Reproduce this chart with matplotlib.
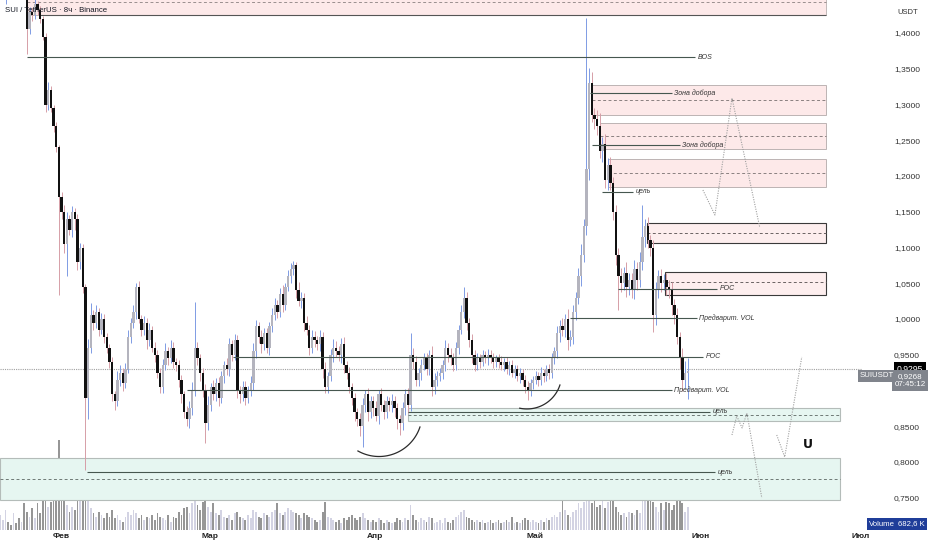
import numpy as np
import matplotlib.pyplot as plt
from matplotlib.patches import Rectangle
from matplotlib.transforms import blended_transform_factory

plt.rcParams['font.family'] = ['Liberation Sans', 'DejaVu Sans']

# ---- data (12h candles, x = days from 1 Feb) ----
T0 = -11.4
first_open = 1.480
closes = [
    1.490, 1.505, 1.520, 1.495, 1.480, 1.500, 1.485, 1.470, 1.490, 1.455,
    1.405, 1.430, 1.425, 1.440, 1.432, 1.420, 1.395, 1.300, 1.320, 1.295,
    1.270, 1.240, 1.170, 1.150, 1.105, 1.140, 1.125, 1.150, 1.140, 1.080,
    1.100, 1.045, 0.890, 0.960, 1.005, 0.995, 1.010, 0.985, 1.000, 0.975,
    0.960, 0.940, 0.895, 0.885, 0.915, 0.925, 0.910, 0.930, 0.975, 0.995,
    1.010, 1.045, 1.000, 0.985, 0.995, 0.970, 0.985, 0.960, 0.950, 0.925,
    0.905, 0.935, 0.955, 0.945, 0.960, 0.940, 0.935, 0.915, 0.895, 0.870,
    0.860, 0.875, 0.900, 0.960, 0.945, 0.925, 0.900, 0.855, 0.880, 0.905,
    0.895, 0.910, 0.890, 0.920, 0.935, 0.930, 0.965, 0.950, 0.970, 0.900,
    0.895, 0.905, 0.890, 0.900, 0.910, 0.955, 0.990, 0.975, 0.965, 0.980,
    0.960, 0.990, 1.005, 1.020, 1.010, 1.035, 1.020, 1.045, 1.060, 1.070,
    1.075, 1.040, 1.025, 1.030, 0.995, 0.985, 0.960, 0.975, 0.970, 0.965,
    0.975, 0.930, 0.905, 0.920, 0.950, 0.960, 0.955, 0.950, 0.965, 0.935,
    0.925, 0.905, 0.890, 0.870, 0.860, 0.850, 0.880, 0.895, 0.870, 0.885,
    0.875, 0.865, 0.895, 0.880, 0.870, 0.885, 0.880, 0.885, 0.875, 0.860,
    0.855, 0.875, 0.895, 0.880, 0.950, 0.940, 0.915, 0.925, 0.935, 0.945,
    0.930, 0.950, 0.905, 0.915, 0.920, 0.925, 0.935, 0.960, 0.950, 0.945,
    0.935, 0.960, 0.985, 1.010, 1.030, 0.995, 0.970, 0.950, 0.935, 0.945,
    0.940, 0.950, 0.945, 0.950, 0.945, 0.940, 0.945, 0.940, 0.935, 0.940,
    0.930, 0.935, 0.925, 0.930, 0.920, 0.925, 0.915, 0.905, 0.900, 0.910,
    0.915, 0.920, 0.915, 0.925, 0.920, 0.930, 0.925, 0.945, 0.955, 0.980,
    0.990, 0.985, 1.000, 0.970, 0.975, 1.010, 1.030, 1.060, 1.090, 1.130,
    1.210, 1.330, 1.285, 1.280, 1.270, 1.235, 1.245, 1.195, 1.215, 1.190,
    1.150, 1.090, 1.060, 1.050, 1.065, 1.045, 1.055, 1.040, 1.070, 1.055,
    1.080, 1.115, 1.130, 1.110, 1.100, 1.005, 1.040, 1.060, 1.050, 1.055,
    1.045, 1.040, 1.020, 1.005, 0.975, 0.945, 0.915, 0.925, 0.927,
]
# wick lengths above / below the body, in thousandths of USDT
wick_hi = [
    8, 10, 6, 9, 7, 10, 8, 6, 9, 7,
    8, 6, 5, 7, 5, 6, 4, 5, 12, 6,
    5, 6, 4, 7, 10, 9, 6, 8, 5, 7,
    6, 5, 4, 12, 18, 8, 10, 6, 9, 7,
    6, 5, 7, 4, 12, 10, 6, 8, 9, 7,
    10, 5, 8, 6, 9, 7, 10, 5, 8, 6,
    7, 9, 12, 6, 10, 8, 5, 7, 6, 5,
    8, 10, 12, 64, 8, 6, 7, 9, 12, 6,
    10, 8, 9, 7, 6, 10, 8, 5, 9, 7,
    6, 9, 8, 7, 10, 12, 8, 6, 9, 7,
    8, 6, 10, 9, 7, 8, 12, 6, 9, 8,
    6, 5, 12, 8, 6, 9, 7, 10, 8, 6,
    9, 7, 10, 6, 8, 12, 9, 7, 8, 10,
    6, 8, 5, 7, 6, 8, 10, 6, 9, 7,
    8, 10, 6, 9, 7, 8, 6, 10, 8, 7,
    6, 9, 7, 8, 30, 10, 8, 6, 9, 7,
    8, 6, 12, 9, 7, 6, 8, 10, 6, 9,
    7, 8, 6, 10, 15, 8, 7, 9, 6, 8,
    6, 7, 5, 8, 6, 7, 5, 6, 8, 5,
    7, 6, 8, 5, 6, 7, 5, 6, 8, 6,
    5, 7, 6, 8, 5, 6, 7, 8, 6, 10,
    8, 12, 7, 14, 10, 9, 8, 12, 15, 10,
    211, 21, 15, 10, 12, 18, 9, 14, 10, 12,
    8, 10, 9, 12, 8, 15, 10, 9, 12, 10,
    14, 45, 10, 12, 8, 10, 12, 9, 10, 8,
    10, 9, 12, 8, 10, 7, 14, 16, 18,
]
wick_lo = [
    8, 6, 65, 9, 10, 8, 7, 9, 6, 8,
    35, 6, 8, 5, 7, 6, 5, 10, 7, 6,
    8, 6, 136, 10, 12, 45, 8, 10, 15, 12,
    10, 8, 101, 30, 8, 10, 7, 9, 6, 8,
    7, 9, 10, 12, 6, 8, 10, 7, 6, 9,
    8, 10, 6, 9, 7, 12, 8, 6, 10, 7,
    9, 8, 6, 10, 7, 9, 8, 10, 12, 8,
    10, 12, 9, 8, 10, 12, 9, 28, 10, 9,
    8, 10, 12, 7, 9, 8, 10, 9, 8, 10,
    12, 9, 10, 8, 7, 9, 10, 8, 12, 9,
    7, 10, 8, 6, 9, 7, 10, 8, 6, 9,
    8, 10, 7, 9, 12, 8, 10, 7, 9, 8,
    10, 12, 9, 8, 7, 10, 8, 9, 12, 10,
    9, 8, 10, 12, 9, 14, 29, 10, 12, 9,
    10, 8, 12, 9, 10, 8, 9, 10, 12, 14,
    17, 10, 9, 12, 8, 10, 9, 8, 10, 7,
    9, 8, 12, 10, 8, 7, 9, 8, 10, 9,
    8, 7, 9, 6, 8, 10, 9, 12, 8, 7,
    8, 6, 7, 9, 6, 8, 7, 9, 6, 8,
    7, 9, 6, 8, 7, 10, 9, 8, 13, 7,
    8, 6, 9, 7, 8, 6, 9, 7, 8, 10,
    12, 9, 10, 14, 8, 10, 12, 9, 14, 10,
    12, 15, 10, 14, 12, 10, 15, 12, 14, 10,
    12, 15, 47, 12, 10, 14, 12, 10, 12, 15,
    10, 12, 14, 10, 12, 23, 14, 10, 12, 10,
    12, 10, 14, 12, 10, 15, 15, 12, 37,
]
# volume, millions SUI
volume = [
    0.45, 0.30, 0.60, 0.25, 0.15, 0.50, 0.20, 0.35, 0.25, 0.80,
    0.55, 0.40, 0.65, 0.35, 0.80, 0.50, 0.90, 1.00, 0.70, 0.85,
    0.95, 1.10, 2.70, 1.20, 1.00, 0.75, 0.55, 0.70, 0.60, 1.10,
    0.90, 1.50, 1.85, 1.20, 0.65, 0.50, 0.40, 0.55, 0.45, 0.35,
    0.50, 0.40, 0.60, 0.35, 0.45, 0.30, 0.25, 0.40, 0.55, 0.45,
    0.60, 0.50, 0.35, 0.45, 0.30, 0.40, 0.35, 0.45, 0.30, 0.50,
    0.40, 0.35, 0.30, 0.45, 0.25, 0.40, 0.35, 0.55, 0.45, 0.65,
    0.70, 0.50, 0.80, 1.15, 0.75, 0.60, 0.85, 1.05, 0.70, 0.55,
    0.80, 0.50, 0.45, 0.60, 0.40, 0.35, 0.45, 0.30, 0.50, 0.55,
    0.40, 0.35, 0.30, 0.45, 0.35, 0.60, 0.55, 0.40, 0.35, 0.50,
    0.45, 0.40, 0.55, 0.60, 0.80, 0.50, 0.45, 0.55, 0.65, 0.60,
    0.55, 0.50, 0.45, 0.35, 0.50, 0.45, 0.40, 0.35, 0.30, 0.25,
    0.30, 0.55, 0.85, 0.40, 0.35, 0.30, 0.25, 0.30, 0.20, 0.35,
    0.30, 0.40, 0.45, 0.35, 0.30, 0.40, 0.50, 0.35, 0.30, 0.25,
    0.30, 0.25, 0.35, 0.30, 0.20, 0.30, 0.25, 0.20, 0.25, 0.35,
    0.30, 0.25, 0.35, 0.30, 0.75, 0.45, 0.30, 0.25, 0.35, 0.30,
    0.25, 0.40, 0.35, 0.20, 0.25, 0.30, 0.20, 0.35, 0.25, 0.20,
    0.30, 0.40, 0.45, 0.55, 0.60, 0.40, 0.35, 0.30, 0.25, 0.30,
    0.25, 0.30, 0.20, 0.25, 0.30, 0.20, 0.25, 0.30, 0.20, 0.25,
    0.30, 0.25, 0.40, 0.20, 0.25, 0.20, 0.30, 0.35, 0.30, 0.25,
    0.30, 0.25, 0.20, 0.30, 0.25, 0.35, 0.30, 0.40, 0.45, 0.40,
    0.55, 1.00, 0.60, 0.45, 0.40, 0.55, 0.60, 0.80, 0.65, 0.85,
    2.10, 1.00, 0.80, 1.05, 0.70, 0.75, 1.00, 0.65, 0.85, 1.35,
    0.90, 0.70, 0.55, 0.45, 0.50, 0.40, 0.55, 0.50, 0.45, 0.60,
    0.50, 1.15, 1.00, 0.95, 1.00, 0.85, 0.70, 0.55, 0.80, 0.60,
    0.85, 0.80, 0.60, 0.75, 0.90, 1.00, 0.80, 0.55, 0.6826,
]

month_days = [0, 28, 59, 89, 120, 150]
month_names = ['Фев', 'Мар', 'Апр', 'Май', 'Июн', 'Июл']
# 0,9000 is hidden behind the last-price tags on the scale
price_ticks = [0.75, 0.80, 0.85, 0.95, 1.00, 1.05, 1.10, 1.15,
               1.20, 1.25, 1.30, 1.35, 1.40]
last_price = 0.9295
close_price = 0.9268

# zones: (day_from, day_to, low, high, mid)
top_zone = (-6.4, 143.5, 1.425, 1.48, 1.443)
pink_zones = [
    (99.6, 143.5, 1.2853, 1.3273, 1.3063),
    (101.1, 143.5, 1.238, 1.274, 1.256),
    (102.6, 143.5, 1.185, 1.224, 1.204),
]
dark_zones = [
    (109.9, 143.5, 1.106, 1.134, 1.120),
    (113.3, 143.5, 1.034, 1.066, 1.052),
]
green_zones = [
    (65.1, 146.2, 0.8573, 0.8755, 0.8657),
    (-11.44, 146.2, 0.7469, 0.8056, 0.7762),
]
# labelled levels: (day_from, day_to, price, label)
levels = [
    (-6.4, 118.9, 1.366, 'BOS'),
    (99.25, 114.6, 1.316, 'Зона добора'),
    (99.6, 116.1, 1.243, 'Зона добора'),
    (101.5, 107.3, 1.178, 'цель'),
    (104.5, 123.1, 1.042, 'POC'),
    (95.5, 119.3, 1.001, 'Предварит. VOL'),
    (32.3, 120.45, 0.947, 'POC'),
    (23.6, 114.6, 0.9007, 'Предварит. VOL'),
    (65.1, 121.8, 0.870, 'цель'),
    (4.9, 122.7, 0.786, 'цель'),
]
# projected paths (dotted)
path_a_days = [120.45, 122.7, 125.9, 131.1]
path_a_prices = [1.1804, 1.1455, 1.3091, 1.1287]
path_b_days = [125.9, 126.8, 127.8, 128.7, 131.5]
path_b_prices = [0.8378, 0.8643, 0.8476, 0.8685, 0.7497]
path_c_days = [134.3, 135.8, 139.0]
path_c_prices = [0.8378, 0.807, 0.9469]
# rounding-bottom arcs: (center_day, center_price, r_days, r_price, theta1, theta2)
arcs = [
    (59.68, 0.868, 8.09, 0.0603, 240.7, 341.6),
    (87.43, 0.9227, 6.51, 0.0485, 258.0, 342.0),
]

# ---- derived candle arrays ----
closes = np.array(closes)
opens = np.concatenate([[first_open], closes[:-1]])
t = T0 + 0.5 * np.arange(len(closes))
body_lo = np.minimum(opens, closes)
body_hi = np.maximum(opens, closes)
highs = body_hi + np.array(wick_hi) / 1000
lows = body_lo - np.array(wick_lo) / 1000
bull = closes >= opens

BULL_BODY, BULL_WICK = '#b4b4be', '#7f9be4'
BEAR_BODY, BEAR_WICK = '#111111', '#d69ea7'

fig = plt.figure(figsize=(9.32, 5.5), dpi=100)
rect = [0, 20 / 550, 862 / 932, 530 / 550]
ax_vol = fig.add_axes(rect)
ax = fig.add_axes(rect)
ax.patch.set_alpha(0)

# volume
vol_colors = np.where(bull, '#d3d3e3', '#969696')
ax_vol.bar(t, volume, width=0.34, color=vol_colors, linewidth=0)
ax_vol.set_ylim(0, 15.9)
ax_vol.set_xlim(-11.44, 150.3)
ax_vol.axis('off')

ax.set_xlim(-11.44, 150.3)
ax.set_ylim(0.7049, 1.4462)

# zones
def zone(z, face, edge, lw, dash_color):
    x0, x1, lo, hi, mid = z
    ax.add_patch(Rectangle((x0, lo), x1 - x0, hi - lo, facecolor=face,
                           edgecolor=edge, linewidth=lw, zorder=1))
    ax.hlines(mid, x0, x1, colors=dash_color, linewidth=0.7,
              linestyles=(0, (3, 2.5)), zorder=1.5)

zone(top_zone, '#fde9e9', '#b9b0b0', 0.6, '#9a8f8f')
ax.hlines(top_zone[2], -3.9, top_zone[1], colors='#555555', linewidth=0.8, zorder=1.6)
for z in pink_zones:
    zone(z, '#fde9e9', '#bdb4b4', 0.7, '#8a8080')
for z in dark_zones:
    zone(z, '#fdeeee', '#3a3a3a', 0.8, '#6a6262')
for z in green_zones:
    zone(z, '#e6f6f1', '#b4bcb9', 0.8, '#6f7a76')

# current price
ax.axhline(last_price, color='#a0a0a0', linewidth=0.8, linestyle=(0, (1, 1)), zorder=1.2)

# candles
for mask, bcol, wcol in [(bull, BULL_BODY, BULL_WICK), (~bull, BEAR_BODY, BEAR_WICK)]:
    ax.vlines(t[mask], lows[mask], highs[mask], colors=wcol, linewidth=0.7, zorder=3)
    ax.bar(t[mask], np.maximum(body_hi[mask] - body_lo[mask], 0.0015),
           bottom=body_lo[mask], width=0.44, color=bcol, linewidth=0, zorder=4)

# labelled levels
for x0, x1, p, lab in levels:
    ax.hlines(p, x0, x1, colors='#46574f', linewidth=0.8, zorder=5)
    ax.text(x1 + 0.5, p, lab, fontsize=5, style='italic', color='#333333',
            va='center', ha='left', zorder=6)

# dotted scenarios
for xs, ys in [(path_a_days, path_a_prices), (path_b_days, path_b_prices),
               (path_c_days, path_c_prices)]:
    ax.plot(xs, ys, color='#a0a0a0', linewidth=0.8, linestyle=(0, (1, 1.2)), zorder=5)

# arcs
for cx, cy, rx, ry, a1, a2 in arcs:
    th = np.radians(np.linspace(a1, a2, 60))
    ax.plot(cx + rx * np.cos(th), cy + ry * np.sin(th), color='#2b2b2b',
            linewidth=0.9, zorder=5)

# magnet icon
ax.text(140.15, 0.8238, 'U', fontsize=9, fontweight='heavy', family='DejaVu Sans',
        color='#111111', ha='center', va='center', zorder=6)

# axes styling
for s in ax.spines.values():
    s.set_visible(False)
ax.yaxis.tick_right()
ax.set_yticks(price_ticks)
ax.set_yticklabels([f'{v:.4f}'.replace('.', ',') for v in price_ticks],
                   fontsize=6, color='#333333')
ax.tick_params(axis='y', length=0, pad=23)
ax.set_xticks(month_days)
ax.set_xticklabels(month_names, fontsize=6, color='#222222', fontweight='bold')
ax.tick_params(axis='x', length=0, pad=2.5)

# header and right-scale labels
fig.text(5 / 932, 1 - 11 / 550, 'SUI / TetherUS · 8ч · Binance', fontsize=5.6,
         color='#131722', va='center', ha='left')
fig.text(908 / 932, 1 - 12 / 550, 'USDT', fontsize=5.5, color='#333333',
         va='center', ha='center')

tr = blended_transform_factory(fig.transFigure, ax.transData)
ax.text(910 / 932, last_price, f'{last_price:.4f}'.replace('.', ','), transform=tr,
        fontsize=6.2, color='white', ha='center', va='center', clip_on=False, zorder=10,
        bbox=dict(boxstyle='square,pad=0.3', facecolor='#000000', edgecolor='none'))
ax.text(910 / 932, close_price - 0.013,
        f'{close_price:.4f}'.replace('.', ',') + '\n07:45:12', transform=tr,
        fontsize=5.8, color='white', ha='center', va='center', clip_on=False,
        linespacing=1.3, zorder=10,
        bbox=dict(boxstyle='square,pad=0.35', facecolor='#80848c', edgecolor='none'))
ax.text(877 / 932, close_price - 0.0065, 'SUIUSDT', transform=tr,
        fontsize=5.6, color='white', ha='center', va='center', clip_on=False, zorder=10,
        bbox=dict(boxstyle='square,pad=0.3', facecolor='#80848c', edgecolor='none'))

fig.text(882 / 932, 1 - 524 / 550, 'Volume', fontsize=5.6, color='white',
         ha='center', va='center',
         bbox=dict(boxstyle='square,pad=0.3', facecolor='#1f3d99', edgecolor='none'))
fig.text(911 / 932, 1 - 524 / 550, f'{volume[-1] * 1000:.1f} K'.replace('.', ','),
         fontsize=5.6, color='white', ha='center', va='center',
         bbox=dict(boxstyle='square,pad=0.3', facecolor='#1f3d99', edgecolor='none'))

fig.savefig('out.png', dpi=100, facecolor='white')
